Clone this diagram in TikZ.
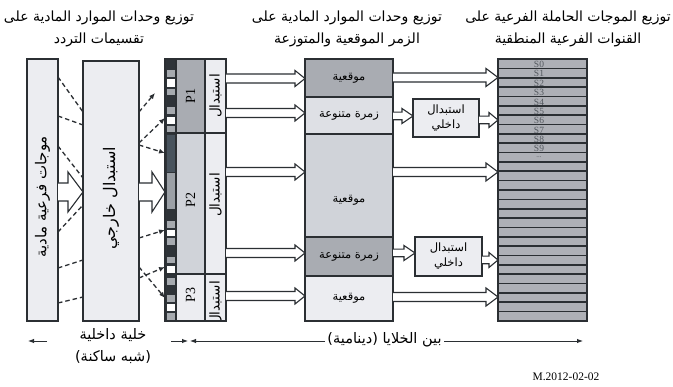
\documentclass[tikz,border=0pt]{standalone}
\usepackage{fontspec}
\setmainfont{Liberation Serif}
\newfontfamily\arabicfont[Script=Arabic]{DejaVu Sans}
\TeXXeTstate=1
\usetikzlibrary{arrows.meta,calc,fit}
\newcommand{\AR}[1]{{\arabicfont\beginR #1\endR}}
\definecolor{edge}{HTML}{2B2F33}
\definecolor{lightf}{HTML}{ECEDF1}
\definecolor{midf}{HTML}{D0D3D9}
\definecolor{darkf}{HTML}{A9ACB2}
\definecolor{zlight}{HTML}{DEE0E5}
\definecolor{stripdark}{HTML}{2E3338}
\definecolor{slate}{HTML}{48535D}
\definecolor{cellgray}{HTML}{A6AAAF}
\definecolor{midgray}{HTML}{9BA0A6}
\definecolor{rowgray}{HTML}{AEB0B6}
\definecolor{labgray}{HTML}{555A60}
% hollow arrow: src, dst, y, shaft half, head half, head length
\newcommand{\hollowarrow}[6]{%
  \coordinate (ha-s) at (#1.east |- 0,#3);
  \coordinate (ha-t) at (#2.west |- 0,#3);
  \filldraw[harrow] ($(ha-s)+(0,-#4)$) -- ($(ha-t)+(-#6,-#4)$) -- ($(ha-t)+(-#6,-#5)$)
    -- (ha-t) -- ($(ha-t)+(-#6,#5)$) -- ($(ha-t)+(-#6,#4)$) -- ($(ha-s)+(0,#4)$);}
\newcommand{\rbox}[6]{\node[box,#6,fit={(#2,#3) (#4,#5)}] (#1) {};}
\begin{document}
\begin{tikzpicture}[x=1pt,y=-1pt,
  box/.style={draw=edge,line width=1.3pt,inner sep=0pt,outer sep=0pt},
  harrow/.style={fill=white,draw=edge,line width=1.1pt,line join=miter},
  dsh/.style={draw=edge,line width=1.3pt,dash pattern=on 4.5pt off 3pt},
  dtip/.style={-{Latex[length=6pt,width=5pt]}},
  thinarr/.style={draw=edge,line width=0.9pt},
  head/.style={font=\arabicfont\fontsize{14}{22}\selectfont,align=center,inner sep=0pt},
  foot/.style={font=\arabicfont\fontsize{14.5}{22}\selectfont,align=center,inner sep=0pt},
  lbl/.style={font=\arabicfont\fontsize{11.5}{15}\selectfont,align=center,inner sep=0pt},
  vlbl/.style={font=\arabicfont\fontsize{15}{16}\selectfont,inner sep=0pt,rotate=90},
  clbl/.style={font=\arabicfont\fontsize{13.5}{15}\selectfont,inner sep=0pt,rotate=90},
  plbl/.style={font=\fontsize{14}{15}\selectfont,inner sep=0pt,rotate=90},
  slab/.style={font=\fontsize{9.5}{10}\selectfont,text=labgray,inner sep=0pt}]
\fill[white] (0,0) rectangle (673,387);
\useasboundingbox (0,0) rectangle (673,387);

% headings
\node[head] (h1) at (99,29) {\AR{توزيع وحدات الموارد المادية على}\\\AR{تقسيمات التردد}};
\node[head] (h2) at (347,29) {\AR{توزيع وحدات الموارد المادية على}\\\AR{الزمر الموقعية والمتوزعة}};
\node[head] (h3) at (568,29) {\AR{توزيع الموجات الحاملة الفرعية على}\\\AR{القنوات الفرعية المنطقية}};

% left boxes
\rbox{L}{27}{59}{58}{321}{fill=lightf}
\rbox{X}{83}{61}{139}{321}{fill=lightf}
\node[vlbl] (tL) at (42.5,197) {\AR{موجات فرعية مادية}};
\node[vlbl,font=\arabicfont\fontsize{16}{17}\selectfont] (tX) at (111,198) {\AR{استبدال خارجي}};

% strip column of cells
\rbox{SC}{165}{59}{176}{321}{fill=stripdark}
\foreach \a/\b/\c in {70/77/cellgray,79/87/white,89/95/cellgray,107/114/cellgray,117/124/white,126/132/cellgray,
  135/172/slate,173/209/midgray,221/228/cellgray,230/236/white,238/245/cellgray,257/263/cellgray,266/273/white,
  278/285/cellgray,295/302/cellgray,304/311/white,313/320/cellgray}
  \fill[\c] (166.5,\a) rectangle (174.5,\b);
\draw[edge,line width=1.3pt] (SC.west |- 0,133) -- (SC.east |- 0,133);
\draw[edge,line width=1.3pt] (SC.west |- 0,274) -- (SC.east |- 0,274);

% P blocks
\rbox{P1}{176}{59}{205}{133}{fill=darkf}
\rbox{P2}{176}{133}{205}{274}{fill=midf}
\rbox{P3}{176}{274}{205}{321}{fill=lightf}
\node[plbl] (tP1) at (190.5,96) {P1};
\node[plbl] (tP2) at (190.5,200) {P2};
\node[plbl] (tP3) at (190.5,295) {P3};
\rbox{R1}{205}{59}{226}{133}{fill=lightf}
\rbox{R2}{205}{133}{226}{274}{fill=lightf}
\rbox{R3}{205}{274}{226}{321}{fill=lightf}
\node[clbl] (tR1) at (215.5,96) {\AR{استبدال}};
\node[clbl] (tR2) at (215.5,195) {\AR{استبدال}};
\begin{scope}
\clip (205.7,274.7) rectangle (225.3,320.3);
\node[clbl] (tR3) at (215.5,303) {\AR{استبدال}};
\end{scope}
\draw[box,fill=none] (R3.north west) rectangle (R3.south east);

% middle column
\rbox{M1}{305}{59}{393}{97}{fill=darkf}
\rbox{M2}{305}{97}{393}{134}{fill=zlight}
\rbox{M3}{305}{134}{393}{237}{fill=midf}
\rbox{M4}{305}{237}{393}{276}{fill=darkf}
\rbox{M5}{305}{276}{393}{321}{fill=lightf}
\node[lbl] (tM1) at (349,78) {\AR{موقعية}};
\node[lbl] (tM2) at (349,115.5) {\AR{زمرة متنوعة}};
\node[lbl] (tM3) at (349,200) {\AR{موقعية}};
\node[lbl] (tM4) at (349,256.5) {\AR{زمرة متنوعة}};
\node[lbl] (tM5) at (349,298.5) {\AR{موقعية}};

% inner boxes
\rbox{I1}{413}{99}{479}{137}{fill=lightf}
\rbox{I2}{415}{237}{482}{276}{fill=lightf}
\node[lbl] (tI1) at (446,118) {\AR{استبدال}\\\AR{داخلي}};
\node[lbl] (tI2) at (448.5,256.5) {\AR{استبدال}\\\AR{داخلي}};

% right strip
\rbox{RS}{498}{59}{587}{321}{fill=rowgray}
\foreach \i in {1,...,27}
  \draw[edge,line width=1.6pt] (RS.west |- 0,59+\i*9.357) -- (RS.east |- 0,59+\i*9.357);
\foreach \i in {0,...,9}
  \node[slab] (s\i) at (539,64.5+\i*9.357) {S\i};
\node[slab,font=\fontsize{7}{8}\selectfont] (sdots) at (539,157.5) {...};

% dashed connectors L -> X
\draw[dsh] (L.east |- 0,77) -- (X.west |- 0,112);
\draw[dsh] (L.east |- 0,116) -- (X.west |- 0,125);
\draw[dsh] (L.east |- 0,146) -- (X.west |- 0,178);
\draw[dsh] (L.east |- 0,232) -- (X.west |- 0,205);
\draw[dsh] (L.east |- 0,268) -- (X.west |- 0,260);
\draw[dsh] (L.east |- 0,303) -- (X.west |- 0,297);

% dashed connectors X -> strip
\coordinate (free1) at (155,93);
\draw[dsh,dtip] (X.east |- 0,112) -- (free1);
\draw[dsh,dtip] (X.east |- 0,143) -- (SC.west |- 0,118);
\draw[dsh,dtip] (X.east |- 0,145) -- (SC.west |- 0,153);
\draw[dsh,dtip] (X.east |- 0,238) -- (SC.west |- 0,230);
\draw[dsh,dtip] (X.east |- 0,278) -- (SC.west |- 0,267);
\draw[dsh,dtip] (X.east |- 0,267) -- (SC.west |- 0,298);

% big hollow arrows
\hollowarrow{L}{X}{192}{9}{20}{15}
\hollowarrow{X}{SC}{192}{9}{20}{13}

% double arrows R -> M
\hollowarrow{R1}{M1}{78.5}{4.5}{8}{10}
\hollowarrow{R1}{M2}{113}{4.5}{8}{10}
\hollowarrow{R2}{M3}{172}{4.5}{8}{10}
\hollowarrow{R2}{M4}{253}{4.5}{8}{10}
\hollowarrow{R3}{M5}{296}{4.5}{8}{10}
% M -> RS
\hollowarrow{M1}{RS}{77.5}{4.5}{9}{12}
\hollowarrow{M3}{RS}{172}{4.5}{9}{12}
\hollowarrow{M5}{RS}{297}{4.5}{9}{12}
% small ones
\hollowarrow{M2}{I1}{116}{3.8}{7.5}{11}
\hollowarrow{I1}{RS}{120}{3.8}{7.5}{9}
\hollowarrow{M4}{I2}{253}{3.8}{7.5}{11}
\hollowarrow{I2}{RS}{260}{3.8}{7.5}{9}

% bottom annotations
\coordinate (b1) at (28,341);
\coordinate (b1e) at (47,341);
\coordinate (b2s) at (171,341);
\coordinate (b2) at (188,341);
\draw[thinarr,-{Latex[length=6pt,width=4.5pt]}] (b1e) -- (b1);
\draw[thinarr,-{Latex[length=6pt,width=4.5pt]}] (b2s) -- (b2);
\node[foot] (bt1) at (113,346) {\AR{خلية داخلية}\\\AR{(شبه ساكنة)}};
\coordinate (c1) at (190,341);
\coordinate (c1e) at (325,341);
\coordinate (c2s) at (444,341);
\coordinate (c2) at (583,341);
\draw[thinarr,-{Latex[length=6pt,width=4.5pt]}] (c1e) -- (c1);
\draw[thinarr,-{Latex[length=6pt,width=4.5pt]}] (c2s) -- (c2);
\node[foot] (bt2) at (384.5,340) {\AR{بين الخلايا (دينامية)}};
\node[font=\fontsize{11.5}{12}\selectfont,inner sep=0pt] (ref) at (566,377) {M.2012-02-02};
\end{tikzpicture}
\end{document}
